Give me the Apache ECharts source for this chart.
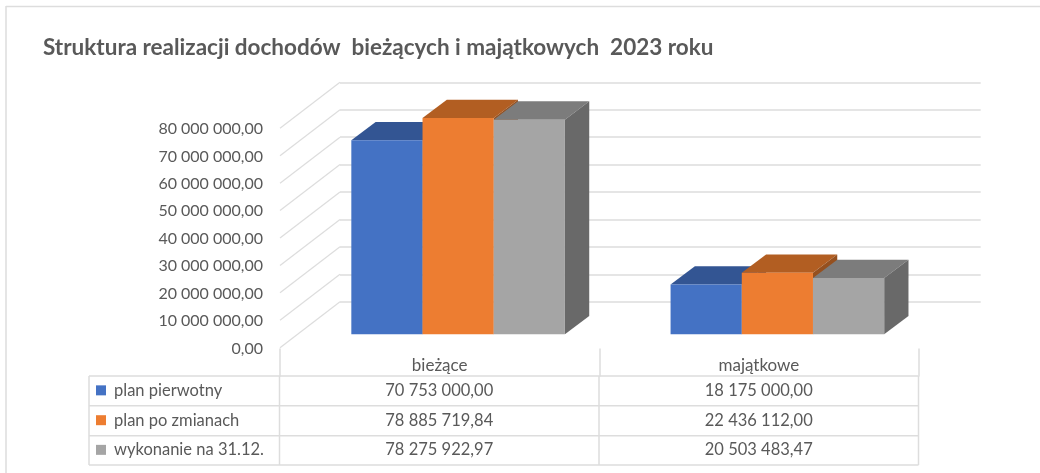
<!DOCTYPE html>
<html>
<head>
<meta charset="utf-8">
<style>
  html, body { margin: 0; padding: 0; background: #fff; }
  #chart { width: 1040px; height: 473px; }
</style>
<script src="https://cdn.jsdelivr.net/npm/echarts@6/dist/echarts.min.js"></script>
</head>
<body>
<div id="chart"></div>
<script>
// ----------data----------
const titleText = 'Struktura realizacji dochodów  bieżących i majątkowych  2023 roku';
const categories = ['bieżące', 'majątkowe'];
const seriesNames = ['plan pierwotny', 'plan po zmianach', 'wykonanie na 31.12.'];
const planPierwotny = [70753000.0, 18175000.0];
const planPoZmianach = [78885719.84, 22436112.0];
const wykonanie = [78275922.97, 20503483.47];
const yTicks = [0, 10000000, 20000000, 30000000, 40000000, 50000000, 60000000, 70000000, 80000000];
// ------------------------

// ----------style----------
const FONT = 'Lato';
const TEXT = '#595959';
const LINE = '#DDDDDD';
// front, top, side
const faces = [
  ['#4472C4', '#335593', '#2B487C'],
  ['#ED7D31', '#B25E22', '#95501F'],
  ['#A5A5A5', '#7C7C7C', '#696969'],
];
const BAR_W = 71.2;
const DEPTH_X = 24.3;
const DEPTH_Y = 18.3;
// wall -> front of the side diagonal
const SIDE_X = 60;
const SIDE_Y = 46;
// table
const tableX = [89, 279.5, 599, 918.5];
const tableY = [376, 405.7, 435.7, 465];
// -------------------------

const fmt = (v) => {
  const [a, b] = v.toFixed(2).split('.');
  return a.replace(/\B(?=(\d{3})+$)/g, ' ') + ',' + b;
};

// 3D bar: front, top and side faces from the axis scale
const barItem = (idx) => (params, api) => {
  const base = api.coord([api.value(0), 0]);
  const top = api.coord([api.value(0), api.value(1)]);
  const x0 = base[0] + (idx - 1.5) * BAR_W;
  const x1 = x0 + BAR_W;
  const y0 = top[1];
  const y1 = base[1];
  const [front, upper, side] = faces[idx];
  return {
    type: 'group',
    children: [
      {
        type: 'polygon',
        shape: { points: [[x0, y0], [x0 + DEPTH_X, y0 - DEPTH_Y], [x1 + DEPTH_X, y0 - DEPTH_Y], [x1, y0]] },
        style: { fill: upper },
      },
      {
        type: 'polygon',
        shape: { points: [[x1, y0], [x1 + DEPTH_X, y0 - DEPTH_Y], [x1 + DEPTH_X, y1 - DEPTH_Y], [x1, y1]] },
        style: { fill: side },
      },
      {
        type: 'rect',
        shape: { x: x0, y: y0, width: BAR_W, height: y1 - y0 },
        style: { fill: front },
      },
    ],
  };
};

// ----------table----------
const hLine = (y, x1, x2) => ({
  type: 'line',
  shape: { x1, y1: y, x2, y2: y },
  style: { stroke: LINE, lineWidth: 1.5 },
  silent: true,
});
const vLine = (x, y1, y2) => ({
  type: 'line',
  shape: { x1: x, y1, x2: x, y2 },
  style: { stroke: LINE, lineWidth: 1.5 },
  silent: true,
});
const cellText = (text, x, y, align, size) => ({
  type: 'text',
  x,
  y,
  style: { text, fill: TEXT, font: `${size}px ${FONT}`, align, verticalAlign: 'middle' },
  silent: true,
});

const tableGraphic = () => {
  const out = [];
  tableY.forEach((y) => out.push(hLine(y, tableX[0], tableX[3])));
  tableX.forEach((x) => out.push(vLine(x, tableY[0], tableY[3])));
  [planPierwotny, planPoZmianach, wykonanie].forEach((values, r) => {
    const cy = (tableY[r] + tableY[r + 1]) / 2 - 0.5;
    out.push({
      type: 'rect',
      shape: { x: 96, y: cy - 5, width: 10, height: 10 },
      style: { fill: faces[r][0] },
      silent: true,
    });
    out.push(cellText(seriesNames[r], 114, cy, 'left', 16.5));
    values.forEach((v, c) => {
      out.push(cellText(fmt(v), (tableX[c + 1] + tableX[c + 2]) / 2, cy, 'center', 16.5));
    });
  });
  return out;
};
// -------------------------

const valueAxis = {
  type: 'value',
  min: 0,
  max: 80000000,
  interval: 10000000,
};

const option = {
  animation: false,
  backgroundColor: '#fff',
  title: {
    text: titleText,
    left: 38,
    top: 31,
    textStyle: { fontFamily: FONT, fontWeight: 'bold', fontSize: 22.5, color: TEXT },
  },
  grid: [
    // back wall
    { left: 340, top: 82.3, width: 640.7, height: 219.4 },
    // front edge: tick labels and category labels
    { left: 280, top: 129, width: 638.5, height: 219.4 },
    // front of the bars
    { left: 298.5, top: 114.9, width: 638.5, height: 219.4 },
  ],
  xAxis: [
    { gridIndex: 0, type: 'value', min: 0, max: 1, show: false },
    {
      gridIndex: 1,
      type: 'category',
      data: categories,
      axisLine: { show: false },
      axisTick: { show: true, length: 28, lineStyle: { color: LINE, width: 1.5 } },
      axisLabel: { margin: 9, color: TEXT, fontFamily: FONT, fontSize: 17 },
    },
    { gridIndex: 2, type: 'category', data: categories, show: false },
  ],
  yAxis: [
    {
      ...valueAxis,
      gridIndex: 0,
      axisLine: { show: false },
      axisTick: { show: false },
      axisLabel: { show: false },
      splitLine: { show: true, lineStyle: { color: LINE, width: 1.5 } },
    },
    {
      ...valueAxis,
      gridIndex: 1,
      axisLine: { show: false },
      axisTick: { show: false },
      splitLine: { show: false },
      axisLabel: { margin: 17, color: TEXT, fontFamily: FONT, fontSize: 16, formatter: fmt },
    },
    { ...valueAxis, gridIndex: 2, show: false, splitLine: { show: false } },
  ],
  series: [
    {
      // side wall lines
      type: 'custom',
      xAxisIndex: 0,
      yAxisIndex: 0,
      clip: false,
      silent: true,
      data: yTicks.map((t) => [0, t]),
      renderItem: (params, api) => {
        const p = api.coord([0, api.value(1)]);
        return {
          type: 'line',
          shape: { x1: p[0], y1: p[1], x2: p[0] - SIDE_X, y2: p[1] + SIDE_Y },
          style: { stroke: LINE, lineWidth: 1.2 },
        };
      },
    },
    ...[planPierwotny, planPoZmianach, wykonanie].map((values, idx) => ({
      name: seriesNames[idx],
      type: 'custom',
      xAxisIndex: 2,
      yAxisIndex: 2,
      clip: false,
      data: values.map((v, i) => [i, v]),
      encode: { x: 0, y: 1 },
      renderItem: barItem(idx),
    })),
  ],
  graphic: [
    // chart frame, runs off the right and bottom of the crop
    hLine(6.5, 6, 1040),
    vLine(6, 6, 473),
    ...tableGraphic(),
  ],
};

const chart = echarts.init(document.getElementById('chart'));
chart.setOption(option);
</script>
</body>
</html>
